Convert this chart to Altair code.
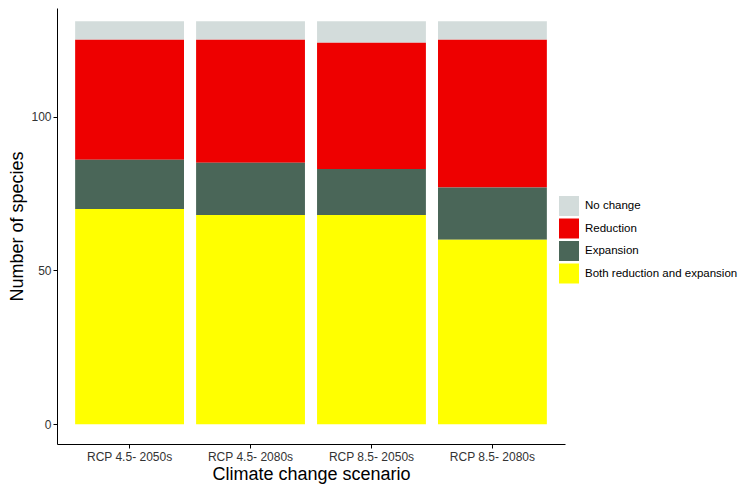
import altair as alt
import pandas as pd

scenarios = ["RCP 4.5- 2050s", "RCP 4.5- 2080s", "RCP 8.5- 2050s", "RCP 8.5- 2080s"]
categories = ["No change", "Reduction", "Expansion", "Both reduction and expansion"]
colors = ["#d3dcdb", "#ee0000", "#4a6658", "#ffff00"]
no_change = [6, 6, 7, 6]
reduction = [39, 40, 41, 48]
expansion = [16, 17, 15, 17]
both = [70, 68, 68, 60]

series = {
    "No change": no_change,
    "Reduction": reduction,
    "Expansion": expansion,
    "Both reduction and expansion": both,
}
stack_rank = {"Both reduction and expansion": 0, "Expansion": 1, "Reduction": 2, "No change": 3}

rows = []
for cat, vals in series.items():
    for s, v in zip(scenarios, vals):
        rows.append({"scenario": s, "category": cat, "value": v, "rank": stack_rank[cat]})
df = pd.DataFrame(rows)

font = "Liberation Sans"

chart = alt.Chart(df).mark_bar(strokeWidth=0).encode(
    x=alt.X("scenario:N", sort=scenarios,
            scale=alt.Scale(paddingInner=0.1, paddingOuter=0.15),
            axis=alt.Axis(title="Climate change scenario", labelAngle=0,
                          titleFontSize=18, titleFontWeight="normal",
                          labelFontSize=12, tickSize=4, labelPadding=3,
                          titlePadding=3, domainColor="black", tickColor="black",
                          labelColor="#333333", titleColor="black")),
    y=alt.Y("value:Q", stack="zero",
            scale=alt.Scale(domain=[-6.4, 135.3], nice=False, zero=False),
            axis=alt.Axis(title="Number of species", values=[0, 50, 100],
                          titleFontSize=18, titleFontWeight="normal",
                          labelFontSize=12, tickSize=4, labelPadding=2,
                          titlePadding=4, grid=False, domainColor="black",
                          tickColor="black", labelColor="#333333", titleColor="black")),
    color=alt.Color("category:N",
                    scale=alt.Scale(domain=categories, range=colors),
                    legend=alt.Legend(title=None, orient="none", legendX=502, legendY=188,
                                      symbolType="square", symbolSize=400,
                                      symbolStrokeWidth=0, labelFontSize=11.5,
                                      labelOffset=6, rowPadding=2.5, padding=0,
                                      labelColor="black")),
    order=alt.Order("rank:Q", sort="ascending"),
).properties(
    width=508, height=436,
    autosize=alt.AutoSizeParams(type="none"),
    padding={"left": 49, "top": 0, "right": 176, "bottom": 41},
).configure(
    font=font
).configure_view(stroke=None).configure_axis(labelFont=font, titleFont=font).configure_legend(labelFont=font)

chart.save("out.html", embed_options={"renderer": "svg", "actions": False})
